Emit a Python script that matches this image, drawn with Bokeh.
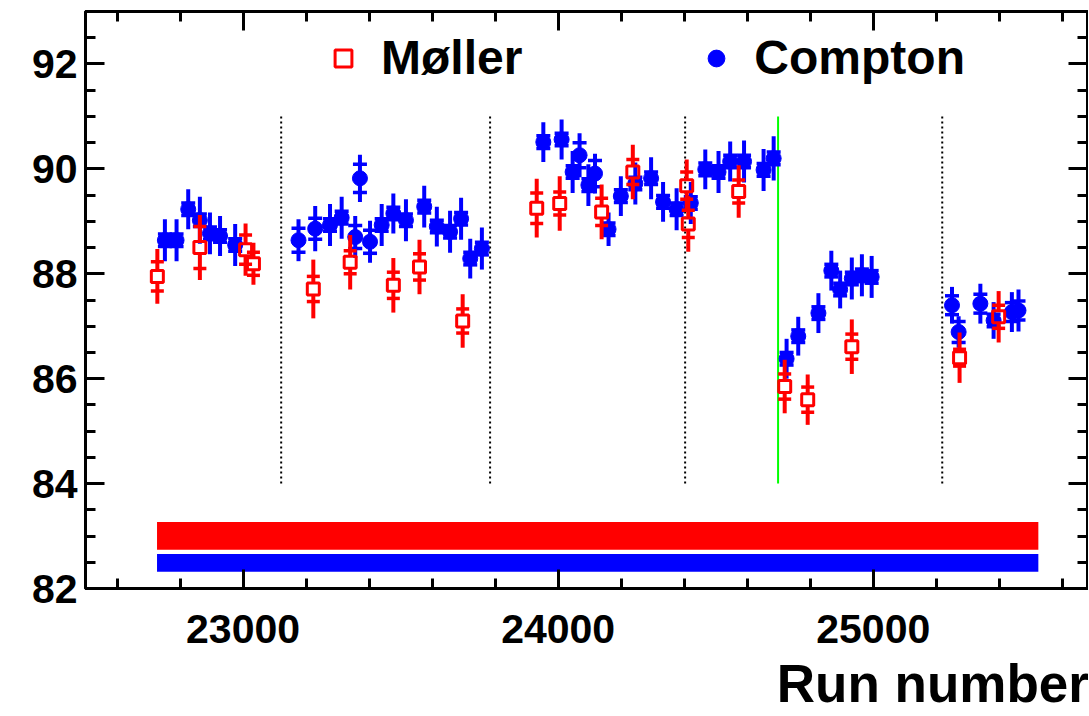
from bokeh.plotting import figure
from bokeh.models import (Range1d, LinearAxis, SingleIntervalTicker, Legend, LegendItem,
                          CustomJSTickFormatter)
from bokeh.embed import file_html
from bokeh.resources import INLINE

# ---------------- data ----------------
moller_run = [22728, 22863, 23008, 23033, 23223, 23340, 23477, 23560, 23697,
              23932, 24005, 24138, 24237, 24408, 24413, 24573,
              24719, 24792, 24932, 25274, 25398]
moller_pol = [87.95, 88.50, 88.46, 88.19, 87.71, 88.22, 87.78, 88.13, 87.10,
              89.25, 89.34, 89.18, 89.94, 89.68, 88.95, 89.57,
              85.85, 85.60, 86.61, 86.40, 87.18]
moller_err = [0.52, 0.62, 0.50, 0.40, 0.56, 0.52, 0.52, 0.52, 0.51,
              0.56, 0.52, 0.52, 0.52, 0.50, 0.53, 0.50,
              0.51, 0.48, 0.52, 0.48, 0.49]
moller_stat = [0.28, 0.40, 0.28, 0.22, 0.24, 0.22, 0.25, 0.25, 0.23,
               0.29, 0.22, 0.26, 0.24, 0.26, 0.26, 0.22,
               0.24, 0.24, 0.24, 0.16, 0.22]

compton_run = [22752, 22789, 22826, 22863, 22895, 22927, 22975,
               23176, 23229, 23276, 23313, 23356, 23371, 23403, 23440, 23477, 23517,
               23575, 23615, 23657, 23692, 23721, 23758,
               23953, 24011, 24046, 24068, 24096, 24117, 24160, 24199, 24245, 24295,
               24333, 24376, 24421,
               24467, 24509, 24546, 24590, 24652, 24684,
               24725, 24762, 24826, 24867, 24895, 24932, 24964, 24995,
               25250, 25271, 25340, 25382, 25440, 25461]
compton_pol = [88.64, 88.64, 89.23, 89.02, 88.77, 88.72, 88.55,
               88.64, 88.86, 88.93, 89.07, 88.70, 89.82, 88.61, 88.93, 89.15, 89.02,
               89.28, 88.90, 88.80, 89.05, 88.29, 88.48,
               90.51, 90.56, 89.94, 90.26, 89.69, 89.91, 88.85, 89.48, 89.72, 89.82,
               89.37, 89.23, 89.35,
               89.99, 89.94, 90.14, 90.14, 89.98, 90.20,
               86.38, 86.81, 87.25, 88.06, 87.70, 87.91, 87.97, 87.94,
               87.40, 86.89, 87.43, 87.11, 87.27, 87.30]
compton_err = [0.40, 0.40, 0.38, 0.45, 0.40, 0.38, 0.40,
               0.40, 0.43, 0.40, 0.40, 0.40, 0.45, 0.40, 0.40, 0.38, 0.40,
               0.40, 0.38, 0.40, 0.40, 0.38, 0.40,
               0.38, 0.38, 0.40, 0.42, 0.40, 0.38, 0.32, 0.38, 0.40, 0.40,
               0.38, 0.40, 0.40,
               0.38, 0.40, 0.38, 0.40, 0.40, 0.42,
               0.38, 0.37, 0.38, 0.38, 0.36, 0.40, 0.40, 0.40,
               0.35, 0.30, 0.38, 0.35, 0.38, 0.40]
compton_stat = [0.12, 0.12, 0.12, 0.12, 0.12, 0.12, 0.12,
                0.23, 0.20, 0.12, 0.12, 0.22, 0.27, 0.22, 0.12, 0.12, 0.12,
                0.12, 0.12, 0.12, 0.12, 0.12, 0.12,
                0.12, 0.12, 0.12, 0.24, 0.12, 0.25, 0.12, 0.12, 0.12, 0.12,
                0.12, 0.12, 0.12,
                0.12, 0.12, 0.12, 0.12, 0.12, 0.12,
                0.12, 0.12, 0.12, 0.12, 0.12, 0.12, 0.12, 0.12,
                0.18, 0.20, 0.18, 0.12, 0.18, 0.18]

period_runs = [23121, 23784, 24403, 25219]
green_run = [24698]

band_left = [22727, 22727]
band_right = [25524, 25524]
band_bottom = [82.74, 82.32]
band_top = [83.27, 82.66]
band_color = ["#ff0000", "#0000ff"]

x_ticks_major = 1000
y_ticks_major = 2
x_title = "Run number"

FONT = "Liberation Sans"

# ---------------- figure ----------------
p = figure(width=1088, height=715,
           x_range=Range1d(22500, 25680), y_range=Range1d(82, 93),
           output_backend="svg", toolbar_location=None,
           x_axis_location=None, y_axis_location=None,
           min_border_left=85, min_border_right=1, min_border_top=11,
           min_border_bottom=127)
p.grid.grid_line_color = None
p.outline_line_color = "black"
p.outline_line_width = 3
p.background_fill_color = "white"
p.border_fill_color = "white"

blank = CustomJSTickFormatter(code="return '';")


def make_axis(interval, nminor, show_labels, standoff=8):
    ax = LinearAxis(ticker=SingleIntervalTicker(interval=interval, num_minor_ticks=nminor))
    ax.major_tick_in = 19
    ax.major_tick_out = 0
    ax.minor_tick_in = 10
    ax.minor_tick_out = 0
    ax.major_tick_line_width = 3
    ax.minor_tick_line_width = 3
    ax.axis_line_width = 3
    ax.axis_line_color = "black"
    ax.axis_label_standoff = 0
    if show_labels:
        ax.major_label_text_font = FONT
        ax.major_label_text_font_style = "bold"
        ax.major_label_text_font_size = "41px"
        ax.major_label_text_color = "black"
        ax.major_label_standoff = standoff
    else:
        ax.formatter = blank
        ax.major_label_standoff = 0
    return ax


p.add_layout(make_axis(y_ticks_major, 4, True, 8), "left")
p.add_layout(make_axis(y_ticks_major, 4, False), "right")
xaxis = make_axis(x_ticks_major, 5, True, 26)
# label anchored at the axis end; trailing no-break spaces push the words
# to the right-hand side as in the original (where the label runs off the edge)
xaxis.axis_label = x_title + "\u00a0" * 21
xaxis.axis_label_align = "end"
xaxis.axis_label_text_line_height = 0.6
xaxis.axis_label_standoff = 8
xaxis.axis_label_text_font = FONT
xaxis.axis_label_text_font_style = "bold"
xaxis.axis_label_text_font_size = "53px"
xaxis.axis_label_text_color = "black"
p.add_layout(xaxis, "below")
p.add_layout(make_axis(x_ticks_major, 5, False), "above")

# bands
p.quad(left=band_left, right=band_right, bottom=band_bottom, top=band_top,
       fill_color=band_color, line_color=None)

# period separators
p.segment(x0=period_runs, y0=[84] * len(period_runs), x1=period_runs, y1=[91] * len(period_runs),
          line_color="black", line_width=2, line_dash="2 3")
p.segment(x0=green_run, y0=[84], x1=green_run, y1=[91], line_color="#00ff00", line_width=2)

# Compton
c_lo = [y - e for y, e in zip(compton_pol, compton_err)]
c_hi = [y + e for y, e in zip(compton_pol, compton_err)]
c_slo = [y - e for y, e in zip(compton_pol, compton_stat)]
c_shi = [y + e for y, e in zip(compton_pol, compton_stat)]
p.segment(x0=compton_run, y0=c_lo, x1=compton_run, y1=c_hi, line_color="#0000ff", line_width=4)
p.scatter(compton_run + compton_run, c_slo + c_shi, marker="dash", size=14,
          line_color="#0000ff", line_width=3.5)
r_comp = p.scatter(compton_run, compton_pol, marker="circle", size=15,
                   fill_color="#0000ff", line_color="#0000ff", line_width=1)

# Moller
gap = 0.115
m_lo = [y - e for y, e in zip(moller_pol, moller_err)]
m_hi = [y + e for y, e in zip(moller_pol, moller_err)]
m_glo = [y - gap for y in moller_pol]
m_ghi = [y + gap for y in moller_pol]
m_slo = [y - e for y, e in zip(moller_pol, moller_stat)]
m_shi = [y + e for y, e in zip(moller_pol, moller_stat)]
p.segment(x0=moller_run, y0=m_lo, x1=moller_run, y1=m_glo, line_color="#ff0000", line_width=4)
p.segment(x0=moller_run, y0=m_ghi, x1=moller_run, y1=m_hi, line_color="#ff0000", line_width=4)
p.scatter(moller_run + moller_run, m_slo + m_shi, marker="dash", size=13,
          line_color="#ff0000", line_width=3.5)
r_mol = p.scatter(moller_run, moller_pol, marker="square", size=12,
                  fill_color=None, line_color="#ff0000", line_width=3)

legend = Legend(items=[LegendItem(label="Møller", renderers=[r_mol]),
                       LegendItem(label="Compton", renderers=[r_comp])],
                orientation="horizontal", location=(237, 503),
                border_line_color=None, background_fill_alpha=0,
                label_text_font=FONT, label_text_font_style="bold",
                label_text_font_size="48px", label_text_color="black",
                glyph_width=42, glyph_height=42, label_standoff=17, spacing=173,
                padding=10, margin=0)
p.add_layout(legend)

open("out.html", "w").write(file_html(p, INLINE))
